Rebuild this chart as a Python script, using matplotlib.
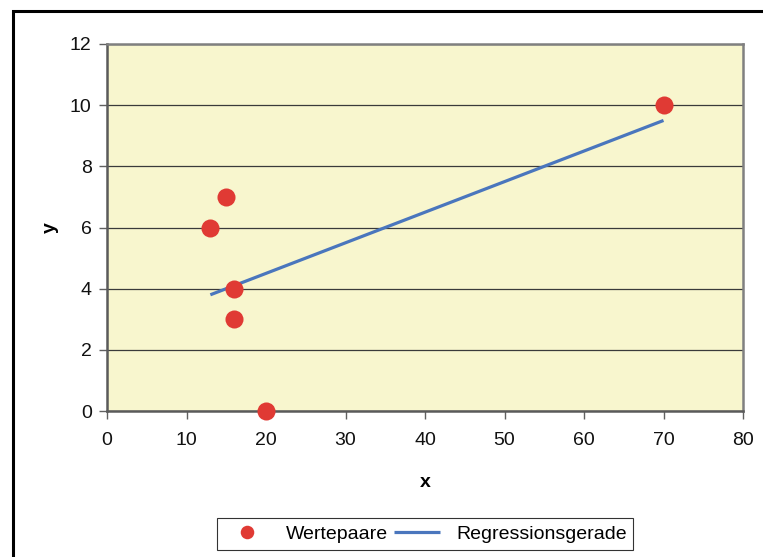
import matplotlib
matplotlib.use("Agg")
from matplotlib import pyplot as plt
from matplotlib.patches import Rectangle

# Wertepaare
x_werte = [13, 15, 16, 16, 20, 70]
y_werte = [6, 7, 4, 3, 0, 10]

# Regressionsgerade
reg_x = [13, 70]
reg_y = [3.8, 9.5]

x_ticks = [0, 10, 20, 30, 40, 50, 60, 70, 80]
y_ticks = [0, 2, 4, 6, 8, 10, 12]

plt.rcParams['font.family'] = ['Liberation Sans', 'DejaVu Sans']

fig = plt.figure(figsize=(7.63, 5.57), dpi=100)
fig.patch.set_facecolor('white')

# äußerer Rahmen (rechts/unten abgeschnitten)
fig.patches.append(Rectangle((12.5 / 763, -0.1), 1.2, 1 - 10.5 / 557 + 0.1,
                             transform=fig.transFigure, fill=False,
                             edgecolor='black', linewidth=2.2, zorder=0))

ax = fig.add_axes([107 / 763, 1 - 411 / 557, (743 - 107) / 763, (411 - 44) / 557])
ax.set_facecolor('#F8F6CE')

ax.set_xlim(0, 80)
ax.set_ylim(0, 12)
ax.set_xticks(x_ticks)
ax.set_yticks(y_ticks)
ax.grid(axis='y', color='#3a3a3a', linewidth=0.9)
ax.set_axisbelow(True)

for side in ['top', 'right', 'left', 'bottom']:
    ax.spines[side].set_color('#808080')
    ax.spines[side].set_linewidth(1.8)
ax.spines['bottom'].set_color('#5a5a5a')
ax.spines['left'].set_color('#5a5a5a')

ax.tick_params(axis='both', direction='out', length=6, width=1,
               color='#606060', labelsize=14, labelcolor='#111111', pad=5)
ax.tick_params(axis='x', pad=9)

ax.plot(reg_x, reg_y, color='#4A76BD', linewidth=2.3, label='Regressionsgerade',
        solid_capstyle='butt', zorder=3)
ax.plot(x_werte, y_werte, linestyle='none', marker='o', markersize=13,
        color='#E03A34', markeredgewidth=0, label='Wertepaare', zorder=4,
        clip_on=False)

ax.set_xlabel('x', fontsize=14, fontweight='bold', labelpad=18)
ax.set_ylabel('y', fontsize=14, fontweight='bold', labelpad=8)

handles, labels = ax.get_legend_handles_labels()
leg = fig.legend(handles[::-1], labels[::-1], loc='center',
                 bbox_to_anchor=(425 / 763, 1 - 534 / 557), ncol=2,
                 fontsize=14, frameon=True, fancybox=False, markerscale=0.75,
                 edgecolor='black', handlelength=2.4, columnspacing=0.3,
                 handletextpad=0.8, borderpad=0.35)
leg.get_frame().set_linewidth(0.8)

plt.savefig('out.png', dpi=100)
